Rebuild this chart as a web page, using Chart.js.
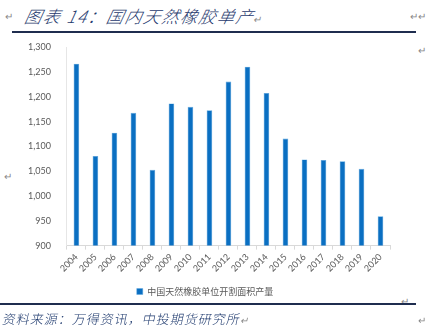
<!DOCTYPE html>
<html><head><meta charset="utf-8">
<script src="https://cdn.jsdelivr.net/npm/chart.js@4/dist/chart.umd.min.js"></script>
<style>
html,body{margin:0;padding:0;background:#fff;width:434px;height:336px;overflow:hidden;position:relative;font-family:"Noto Sans CJK SC",sans-serif;}
.t{position:absolute;white-space:nowrap;}
#title{left:25px;top:3px;font-size:17px;font-style:italic;color:#1f3a6e;letter-spacing:1.5px;transform:skewX(-12deg);font-weight:300;}
.ret{color:#888;font-size:10px;}
.hr{position:absolute;background:#1f2d4f;height:2px;}
#src{left:3px;top:309px;font-size:13px;color:#1f3a6e;letter-spacing:1px;transform:skewX(-12deg);font-weight:300;}
#wrap{position:absolute;left:20px;top:34px;width:380px;height:272px;}
</style></head><body>
<div class="t ret" style="left:5px;top:8px;">↵</div>
<div class="t" id="title">图表 14：国内天然橡胶单产<span class="ret" style="font-style:normal">↵</span></div>
<div class="t ret" style="left:410px;top:8px;">↵↵</div>
<div class="hr" style="left:12px;top:31px;width:404px;"></div>
<div class="t ret" style="left:418px;top:42px;">↵</div>
<div class="t ret" style="left:4px;top:168px;">↵</div>
<div id="wrap"><canvas id="c"></canvas></div>
<div class="t ret" style="left:401px;top:293px;">↵</div>
<div class="hr" style="left:0px;top:303px;width:416px;height:1.5px;"></div>
<div class="t" id="src">资料来源：万得资讯，中投期货研究所<span class="ret" style="font-style:normal">↵</span></div>
<div class="t ret" style="left:418px;top:312px;">↵</div>
<script>
const categories = ["2004","2005","2006","2007","2008","2009","2010","2011","2012","2013","2014","2015","2016","2017","2018","2019","2020"];
const values = [1267,1081,1128,1168,1053,1187,1180,1173,1231,1261,1208,1116,1074,1073,1070,1055,959];
const seriesName = "中国天然橡胶单位开割面积产量";
const yMin = 900, yMax = 1300, yStep = 50;

new Chart(document.getElementById('c'), {
  type: 'bar',
  data: { labels: categories, datasets: [{ label: seriesName, data: values, backgroundColor: '#0a6fc2', borderColor: '#5aa6e0', borderWidth: {left:0.6,right:0.6,top:0.6,bottom:0}, barPercentage: 0.9, categoryPercentage: 0.33 }] },
  options: {
    responsive: true, maintainAspectRatio: false, animation: false,
    layout: { padding: { left: 0, right: 10, top: 6, bottom: 0 } },
    plugins: {
      legend: { position: 'bottom', labels: { boxWidth: 6, boxHeight: 6, padding: 11, color: '#595959', font: { family: '"Noto Sans CJK SC"', size: 9 } } },
      tooltip: { enabled: false }
    },
    scales: {
      x: {
        grid: { display: true, drawOnChartArea: false, drawTicks: true, tickLength: 4, color: '#d9d9d9', offset: true },
        border: { color: '#d9d9d9' },
        ticks: { autoSkip: false, color: '#595959', font: { family: 'Lato', size: 9 }, maxRotation: 45, minRotation: 45, padding: 2 }
      },
      y: {
        min: yMin, max: yMax,
        grid: { display: false },
        border: { color: '#e6e6e6' },
        ticks: { stepSize: yStep, color: '#595959', font: { family: 'Lato', size: 9 }, padding: 8, callback: v => v.toLocaleString('en-US') }
      }
    }
  }
});
</script>
</body></html>
